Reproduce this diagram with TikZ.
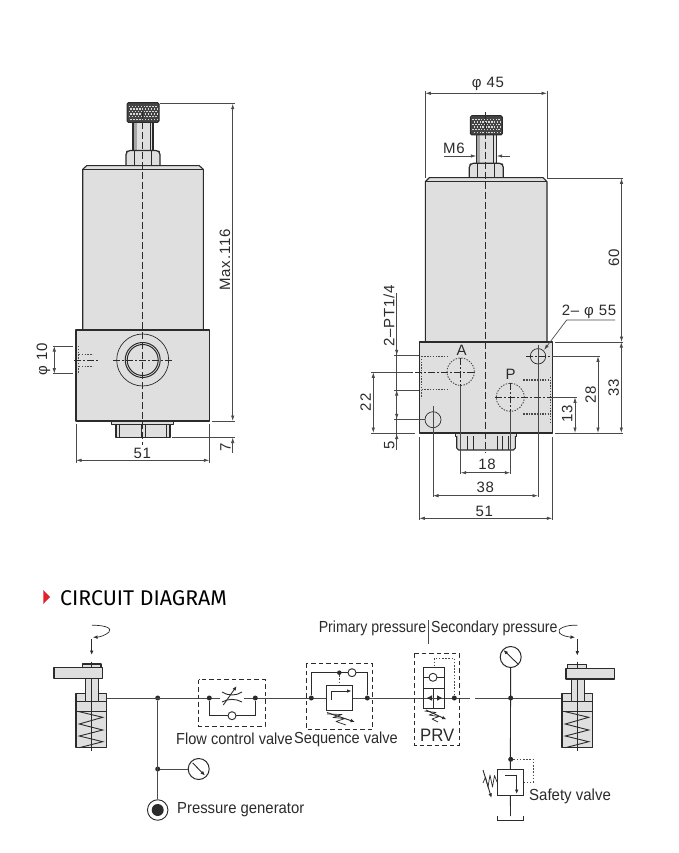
\documentclass[tikz,border=0pt]{standalone}
\usepackage{fontspec}
\setmainfont{Liberation Sans}
\newfontfamily\titlefont{Fira Sans}
\usetikzlibrary{arrows.meta}
\definecolor{ink}{HTML}{2B2B2B}
\definecolor{dimc}{HTML}{4A4A4A}
\definecolor{bodyfill}{HTML}{DEDFDE}
\definecolor{knurldark}{HTML}{444444}
\definecolor{bulletred}{HTML}{E0202A}
\tikzset{
 tip/.tip={Latex[length=5.5pt,width=3.4pt]},
 smalltip/.tip={Latex[length=4.5pt,width=3.6pt]},
 outline/.style={draw=ink,line width=1.1pt,line join=round},
 solidbody/.style={outline,fill=bodyfill},
 thinline/.style={draw=ink,line width=.7pt},
 dimline/.style={draw=dimc,line width=.7pt},
 dimboth/.style={dimline,{tip}-{tip}},
 centerline/.style={draw=ink,line width=.7pt,dash pattern=on 7pt off 3pt},
 dashdot/.style={draw=ink,line width=.6pt,dash pattern=on 7pt off 2pt on 2pt off 2pt},
 hidden/.style={draw=dimc,line width=.9pt,dash pattern=on 1.4pt off 1.4pt},
 hiddenthick/.style={draw=dimc,line width=1.5pt,dash pattern=on 1.5pt off 1.2pt},
 dimtext/.style={text=ink,font=\fontsize{15}{17}\selectfont\addfontfeature{LetterSpace=5},inner sep=0pt},
 circuit/.style={draw=ink,line width=.9pt},
 spring/.style={draw=ink,line width=.7pt,line join=round},
 pipe/.style={draw=dimc,line width=1pt},
 symbolbox/.style={draw=ink,line width=1pt,fill=white},
 groupbox/.style={draw=ink,line width=1pt,dash pattern=on 4.5pt off 3pt},
 pilot/.style={draw=dimc,line width=.8pt,dash pattern=on 1.6pt off 1.6pt},
 junction/.style={circle,fill=ink,inner sep=0pt,minimum size=5pt},
 gaugedial/.style={circle,draw=ink,line width=1pt,fill=white,inner sep=0pt,minimum size=21pt},
 checkball/.style={circle,draw=ink,line width=.9pt,fill=white,inner sep=0pt,minimum size=8pt},
 lbl/.style={text=ink,font=\fontsize{16}{18}\selectfont,inner sep=0pt,xscale=.91},
}
% knurled knob: #1 = centre x, #2 = top y, #3 half width, #4 height
\newcommand{\knurlknob}[4]{%
 \fill[knurldark,rounded corners=1.5pt,draw=ink,line width=1pt] (#1-#3,#2) rectangle (#1+#3,#2+#4);
 \pgfmathsetmacro{\kxa}{#1-#3+2}\pgfmathsetmacro{\kya}{#2+3}
 \foreach \i in {0,...,9}{\foreach \j in {0,...,5}{%
   \pgfmathsetmacro{\kx}{\kxa+\i*2.9+mod(\j,2)*1.45}
   \pgfmathsetmacro{\ky}{\kya+\j*2.6}
   \fill[white!85!black] (\kx,\ky) rectangle +(1.4,1.3);
 }}}
% bolt column below the knob: #1 centre x, #2 stem top y, #3 nut top y, #4 nut bottom y
\newcommand{\boltcolumn}[4]{%
 \fill[bodyfill] (#1-10,#2) rectangle (#1+10,#3);
 \fill[black!35] (#1-10,#2) rectangle (#1-6.5,#3);
 \draw[outline] (#1-10,#2) -- (#1-10,#3) (#1+10,#2) -- (#1+10,#3);
 \draw[thinline] (#1+7.5,#2) -- (#1+7.5,#3);
 \draw[draw=ink,line width=1.2pt,line join=round,rounded corners=2pt,fill=bodyfill] (#1-17,#4) -- (#1-17,#3+2) -- (#1-15,#3) -- (#1+15,#3) -- (#1+17,#3+2) -- (#1+17,#4);
 \draw[thinline,line width=1pt] (#1-8.5,#3) -- (#1-8.5,#4) (#1+8.5,#3) -- (#1+8.5,#4);
}
\newcommand{\actuator}{%
 \draw[solidbody,line width=1.4pt] (76,693.5) rectangle (106.7,747.7);
 \draw[thinline] (76,711) -- (106.7,711);
 \draw[circuit] (76,701.7) -- (106.7,701.7);
 \draw[circuit] (79.3,711.7) -- (102.7,717.3) -- (79.3,724) -- (102.7,730) -- (79.3,736) -- (102.7,741.7) -- (79.3,747.7);
 \draw[solidbody,line width=1.4pt] (85.3,675) rectangle (98.7,701.7);
 \draw[thinline] (91.7,661.7) -- (91.7,750.7);
}
\begin{document}
\begin{tikzpicture}[x=1pt,y=-1pt]
\useasboundingbox (0,0) rectangle (678,853);
\fill[white] (0,0) rectangle (678,853);

%% ---------- left view ----------
\begin{scope}
\boltcolumn{143}{122}{150.5}{165.5}
\knurlknob{143}{102.7}{16}{19.6}
\draw[solidbody] (82.7,330) -- (82.7,169.3) -- (86.7,165.7) -- (199.3,165.7) -- (203.3,169.3) -- (203.3,330);
\draw[outline] (82.7,169.3) -- (203.3,169.3);
\draw[solidbody,line width=1.3pt] (76,330) rectangle (209.3,421);
\draw[solidbody,line width=.9pt] (111.7,421.5) rectangle (173.3,424.3);
\draw[solidbody] (116,424.3) rectangle (170,437.7);
\draw[thinline] (119.5,424.3) -- (119.5,437.7) (166.5,424.3) -- (166.5,437.7) (141,424.3) -- (141,437.7) (145,424.3) -- (145,437.7);
\draw[thinline,fill=bodyfill] (142.7,360) circle [radius=26pt];
\draw[thinline,line width=1pt,fill=bodyfill] (142.7,360) circle [radius=17.5pt];
\draw[thinline,line width=1pt] (142.7,360) circle [radius=15.5pt];
\draw[centerline] (142.7,112) -- (142.7,445);
\draw[dashdot] (113,360) -- (172,360);
\draw[hidden] (78.5,346) -- (78.5,374) (79,354.3) -- (93,354.3) (79,366) -- (93,366);
\draw[dashdot] (74,360.3) -- (99,360.3);
% dimensions
\coordinate (mtop) at (232.7,103.7);
\coordinate (mbot) at (232.7,421);
\draw[dimline] (160,103.7) -- (235,103.7);
\draw[dimboth] (mtop) -- (mbot);
\draw[dimline] (212,421) -- (235,421);
\draw[dimline] (172,437.5) -- (235,437.5);
\draw[dimline,{tip}-] (232.7,437.5) -- (232.7,453);
\node[dimtext,rotate=90] (lmax) at (225,260) {Max.116};
\node[dimtext,rotate=90] (lseven) at (225.5,447) {7};
\draw[dimline] (76,424) -- (76,463) (209.3,424) -- (209.3,463);
\draw[dimboth] (76,460.3) -- (209.3,460.3);
\node[dimtext] (lfiftyone) at (142.3,453) {51};
\draw[dimline] (52.7,346) -- (72.7,346) (52.7,373.7) -- (72.7,373.7);
\draw[dimboth] (54.3,346) -- (54.3,373.7);
\node[dimtext,rotate=90] (lphiten) at (43.5,359.5) {φ 10};
\end{scope}

%% ---------- right view ----------
\begin{scope}
\boltcolumn{486.3}{135}{163.3}{177.7}
\knurlknob{486.3}{115.7}{16}{19.3}
\draw[solidbody] (425.3,342) -- (425.3,181.7) -- (429.3,177.7) -- (543,177.7) -- (547,181.7) -- (547,342);
\draw[outline] (425.3,181.7) -- (547,181.7);
\draw[solidbody,line width=1.3pt] (419.3,342) rectangle (552.3,433);
\draw[solidbody,line width=.9pt] (455,433) rectangle (516,436);
\draw[solidbody] (456.7,436) -- (456.7,448) -- (458.5,450) -- (513.5,450) -- (515.3,448) -- (515.3,436);
\draw[thinline] (467.7,436) -- (467.7,450) (473.3,436) -- (473.3,450) (497.3,436) -- (497.3,450) (502.7,436) -- (502.7,450) (508.3,436) -- (508.3,450);
\draw[centerline] (485.8,111.7) -- (485.8,453);
% ports
\draw[hidden] (460.7,371.7) circle [radius=13.7pt];
\draw[hidden] (510.3,397.3) circle [radius=14pt];
\draw[hidden] (421.5,356) -- (447.3,356) (421.5,389) -- (447.3,389) (421.3,356) -- (421.3,398);
\draw[hiddenthick] (523.3,380) -- (550,380) (523.3,414) -- (550,414);
\draw[hidden] (550,376.7) -- (550,423);
\draw[dashdot] (402,372) -- (475,372);
\draw[dashdot] (460.7,358) -- (460.7,386);
\draw[dashdot] (495,397.3) -- (552,397.3);
\draw[dashdot] (510.3,383) -- (510.3,411);
\draw[thinline] (538,356.3) circle [radius=7.7pt];
\draw[thinline] (433,419.7) circle [radius=8pt];
\draw[dashdot] (526,356.3) -- (550,356.3);
\node[dimtext] (lporta) at (461.7,350.7) {A};
\node[dimtext] (lportp) at (510.7,374.3) {P};
% top dims
\draw[dimline] (425.3,91) -- (425.3,178) (547,91) -- (547,178);
\draw[dimboth] (425.3,93.3) -- (547,93.3);
\node[dimtext] (lphi45) at (488,84) {φ 45};
\node[dimtext] (lmsix) at (454,148) {M6};
\draw[dimline,-{tip}] (444.3,156) -- (476.3,156);
\draw[dimline,-{tip}] (510,156) -- (496.7,156);
% right dims
\draw[dimline] (547,178.3) -- (623,178.3);
\draw[dimline] (555,342) -- (623,342);
\draw[dimline] (555,433) -- (623,433);
\draw[dimboth] (621.5,178.3) -- (621.5,342);
\node[dimtext,rotate=90] (lsixty) at (614,258) {60};
\draw[dimboth] (621.3,342) -- (621.3,433);
\node[dimtext,rotate=90] (lthirtythree) at (613.7,387.7) {33};
\draw[dimline] (552,356.3) -- (600,356.3);
\draw[dimboth] (598,356.3) -- (598,433);
\node[dimtext,rotate=90] (ltwentyeight) at (590.7,395) {28};
\draw[dimline] (552.3,397.3) -- (577,397.3);
\draw[dimboth] (575,397.3) -- (575,433);
\node[dimtext,rotate=90] (lthirteen) at (567.3,414) {13};
\node[dimtext] (lholes) at (589,312.3) {2– φ 55};
\draw[dimline,-{tip}] (615,320) -- (566.7,320) -- (544,350);
% left dims
\node[dimtext,rotate=90] (lpt) at (389,316) {2–PT1/4};
\draw[dimline] (396.7,293.3) -- (396.7,450);
\draw[dimline,-{tip}] (396.7,345) -- (396.7,355.3);
\draw[dimline,-{tip}] (396.7,400) -- (396.7,390);
\draw[dimline,-{tip}] (396.7,410) -- (396.7,419.3);
\draw[dimline,-{tip}] (396.7,445) -- (396.7,433.5);
\draw[dimline] (394,355.3) -- (419,355.3) (394,390) -- (419,390) (394,419.3) -- (425,419.3);
\draw[dimline] (371,372.3) -- (411,372.3) (371,433) -- (415,433);
\draw[dimboth] (373.3,372.3) -- (373.3,433);
\node[dimtext,rotate=90] (ltwentytwo) at (365.7,402.3) {22};
\node[dimtext,rotate=90] (lfive) at (389.3,445.7) {5};
% bottom dims
\draw[dimline] (460.7,386) -- (460.7,474) (510.3,411) -- (510.3,474);
\draw[dimboth] (460.7,472.7) -- (510.3,472.7);
\node[dimtext] (leighteen) at (487,464.3) {18};
\draw[dimline] (433,406) -- (433,497) (538,345) -- (538,497);
\draw[dimboth] (433,495.7) -- (538,495.7);
\node[dimtext] (lthirtyeight) at (485.3,487.3) {38};
\draw[dimline] (419.3,437) -- (419.3,520) (552.3,437) -- (552.3,520);
\draw[dimboth] (419.3,518.3) -- (552.3,518.3);
\node[dimtext] (lfiftyoneb) at (484.3,511) {51};
\end{scope}

%% ---------- circuit heading ----------
\fill[bulletred] (43.3,590) -- (50,597) -- (43.3,604) -- cycle;
\node[anchor=west,inner sep=0pt,text=black,font=\titlefont\fontsize{21.3}{24}\selectfont] (heading) at (60,598) {CIRCUIT DIAGRAM};

%% ---------- circuit: main line ----------
\coordinate (cylL) at (106.7,698);
\coordinate (breakL) at (470,698);
\coordinate (breakR) at (475,698);
\coordinate (cylR) at (562,698);
\node[junction] (jgen) at (157.7,698) {};
\node[junction] (jgauge) at (157.7,769) {};
\draw[pipe] (cylL) -- (breakL);
\draw[pipe] (breakR) -- (cylR);
\node[gaugedial] (gaugeL) at (198.7,769) {};
\node[circle,draw=ink,line width=.9pt,fill=white,inner sep=0pt,minimum size=20.5pt] (pump) at (157.7,810) {};
\node[circle,fill=ink,inner sep=0pt,minimum size=12pt] (pumpcore) at (pump) {};
\draw[pipe] (jgen) -- (pump);
\draw[pipe] (jgauge) -- (gaugeL);
\draw[circuit,-{smalltip}] (192.7,763) -- (205,775.5);
\node[lbl,anchor=west,xscale=1.02] (lgen) at (177,810) {Pressure generator};

%% actuators
\actuator
\draw[solidbody,line width=1.3pt] (82.3,664) rectangle (101,668);
\draw[solidbody,line width=1.3pt] (54,667.7) rectangle (102.7,678.3);
\draw[thinline] (91.7,661.7) -- (91.7,668);
\draw[circuit,-{smalltip}] (91.7,639.3) -- (91.7,655);
\draw[thinline,-{smalltip}] (92,625.3) .. controls (104,625) and (113,628) .. (109,632) .. controls (106,635) and (100,637) .. (93,637.3);
\begin{scope}[xshift=486pt]
\actuator
\end{scope}
\draw[solidbody,line width=1.3pt] (567.7,664.3) rectangle (586.7,668.3);
\draw[solidbody,line width=1.3pt] (566,668.3) rectangle (614.7,679);
\draw[thinline] (577.3,661.7) -- (577.3,668.3);
\draw[circuit,-{smalltip}] (577.3,639) -- (577.3,655.7);
\draw[thinline,-{smalltip}] (577.3,625.3) .. controls (566,624.5) and (556,629) .. (559.5,633) .. controls (562,636) and (569,637) .. (575,637.3);

%% flow control valve
\draw[groupbox] (198.7,679.7) rectangle (265,726);
\node[junction] (fa) at (209.3,698) {};
\node[junction] (fb) at (255.3,698) {};
\coordinate (fc) at (209.3,715.7);
\coordinate (fd) at (255.3,715.7);
\draw[circuit] (fa) -- (fc) -- (fd) -- (fb);
\node[checkball] (fball) at (232,715.7) {};
\fill[white] (220,692) rectangle (244,704);
\draw[circuit] (222,692) .. controls (228,696) and (236,696) .. (242,692);
\draw[circuit] (222,702) .. controls (228,698.5) and (236,698.5) .. (242,702);
\draw[circuit,-{smalltip}] (223.3,705) -- (236.7,686);
\node[lbl] (lflow) at (234.5,739) {Flow control valve};

%% sequence valve
\draw[groupbox] (306,663.3) rectangle (372.3,729.3);
\node[junction] (sa) at (311.3,698) {};
\node[junction] (sb) at (367.3,698) {};
\node[junction,minimum size=4.5pt] (stop) at (339.3,672.7) {};
\coordinate (sc) at (311.3,672.7);
\coordinate (sd) at (367.3,672.7);
\draw[circuit] (sa) -- (sc) -- (sd) -- (sb);
\node[checkball] (sball) at (352,672.7) {};
\node[symbolbox,minimum width=26pt,minimum height=25.7pt,inner sep=0pt] (sbox) at (339.3,697.85) {};
\draw[pilot] (stop) -- (sbox.north -| stop);
\draw[circuit,-{smalltip}] (331.7,700) -- (331.7,691) -- (351.5,691);
\draw[spring] (327,714) -- (342,714.5) -- (333,717.5) -- (345,718.5) -- (336,721.5) -- (346,725);
\draw[circuit,-{smalltip}] (327,712.5) -- (355,722);
\node[lbl] (lseq) at (346,739) {Sequence valve};

%% PRV
\draw[groupbox] (414,653.3) rectangle (459.3,745.3);
\node[symbolbox,minimum width=20.6pt,minimum height=41pt,inner sep=0pt] (pbox) at (434,687.8) {};
\draw[circuit] (423.7,688.3) -- (444.3,688.3);
\node[checkball] (pball) at (433,677.3) {};
\draw[circuit] (423.7,677.3) -- (pball) (pball) -- (444.3,677.3);
\draw[circuit] (433,688.3) -- (433,708);
\draw[pipe] (423.7,698) -- (444.3,698);
\fill[ink] (427,698) -- (432,695.3) -- (432,700.7) -- cycle;
\fill[ink] (442,698) -- (437,695.3) -- (437,700.7) -- cycle;
\node[junction] (pj) at (454.3,698) {};
\coordinate (pc) at (454.3,658);
\coordinate (pd) at (434.3,658);
\draw[pilot] (pj) -- (pc) -- (pd) -- (pd |- pbox.north);
\draw[spring] (424.5,711) -- (436,712.5) -- (429,715) -- (439,716.5) -- (432,719) -- (438,722);
\draw[circuit,-{smalltip}] (426,710) -- (446.5,719.5);
\node[text=ink,font=\fontsize{18}{20}\selectfont,inner sep=0pt,xscale=.93] (lprv) at (437.3,735) {PRV};

%% header labels
\coordinate (divtop) at (428.7,620);
\coordinate (divbot) at (428.7,643.7);
\draw[dimline] (divtop) -- (divbot);
\node[lbl,anchor=east,xscale=.97] (lprim) at (426.5,628) {Primary pressure};
\node[lbl,anchor=west,xscale=.97] (lsec) at (431,628) {Secondary pressure};

%% gauge, safety valve
\node[gaugedial] (gaugeT) at (510.7,657) {};
\draw[circuit,{smalltip}-] (503.5,650) -- (518,664);
\node[junction] (jt) at (510.7,698) {};
\node[junction] (js) at (510.7,759.3) {};
\node[symbolbox,minimum width=26pt,minimum height=26pt,inner sep=0pt] (svbox) at (510.3,782.3) {};
\draw[circuit] (gaugeT) -- (svbox);
\coordinate (sp1) at (533.3,759.3);
\coordinate (sp2) at (533.3,782.3);
\draw[pilot] (js) -- (sp1) -- (sp2) -- (svbox.east |- sp2);
\draw[circuit,-{smalltip}] (505,775) -- (516.7,775) -- (516.7,794);
\draw[circuit] (svbox) -- (510.5,816);
\draw[thinline] (497.7,816) -- (497.7,820) -- (523.3,820) -- (523.3,816);
\draw[spring] (497,782) -- (494.5,775.5) -- (492.5,787) -- (490,775) -- (488,787) -- (485.5,777) -- (483,783);
\draw[circuit,-{smalltip}] (483,770) -- (491.5,798);
\node[lbl,anchor=west,xscale=1.03] (lsafety) at (529,796) {Safety valve};
\end{tikzpicture}
\end{document}
